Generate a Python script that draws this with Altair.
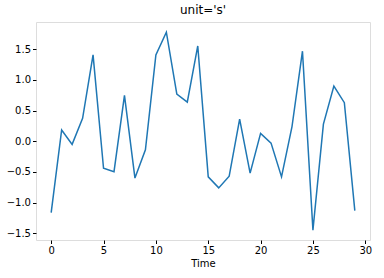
import altair as alt
import pandas as pd

time = list(range(30))
values = [-1.165, 0.184, -0.05, 0.375, 1.41, -0.44, -0.495, 0.75, -0.60, -0.14,
          1.41, 1.78, 0.77, 0.64, 1.555, -0.58, -0.76, -0.57, 0.36, -0.52,
          0.13, -0.03, -0.58, 0.24, 1.47, -1.45, 0.28, 0.90, 0.63, -1.13]
x_ticks = [0, 5, 10, 15, 20, 25, 30]
y_ticks = [-1.5, -1.0, -0.5, 0.0, 0.5, 1.0, 1.5]

df = pd.DataFrame({"Time": time, "value": values})

font = "DejaVu Sans"
chart = alt.Chart(df).mark_line(color="#1f77b4", strokeWidth=1.5, clip=True).encode(
    x=alt.X("Time:Q", scale=alt.Scale(domain=[-1.45, 30.45], nice=False, zero=False),
            axis=alt.Axis(values=x_ticks, format="d", title="Time", grid=False, domain=False,
                          tickSize=3.5, tickColor="black", labelColor="black",
                          labelFont=font, labelFontSize=10, labelPadding=2,
                          titleFont=font, titleFontSize=10, titleFontWeight="normal",
                          titleColor="black", titlePadding=3)),
    y=alt.Y("value:Q", scale=alt.Scale(domain=[-1.61, 1.946], nice=False, zero=False),
            axis=alt.Axis(values=y_ticks, format=".1f", title=None, grid=False, domain=False,
                          tickSize=3.5, tickColor="black", labelColor="black",
                          labelFont=font, labelFontSize=10, labelPadding=2)),
).properties(
    width=334, height=218,
    title=alt.TitleParams("unit='s'", font=font, fontSize=12, fontWeight="normal",
                          color="black", anchor="middle", offset=5),
    autosize=alt.AutoSizeParams(type="none"),
    padding={"left": 36, "top": 22, "right": 14, "bottom": 38},
).configure_view(stroke="black", strokeWidth=1).configure(background="white")

chart.save("out.html", embed_options={"renderer": "svg", "actions": False})
